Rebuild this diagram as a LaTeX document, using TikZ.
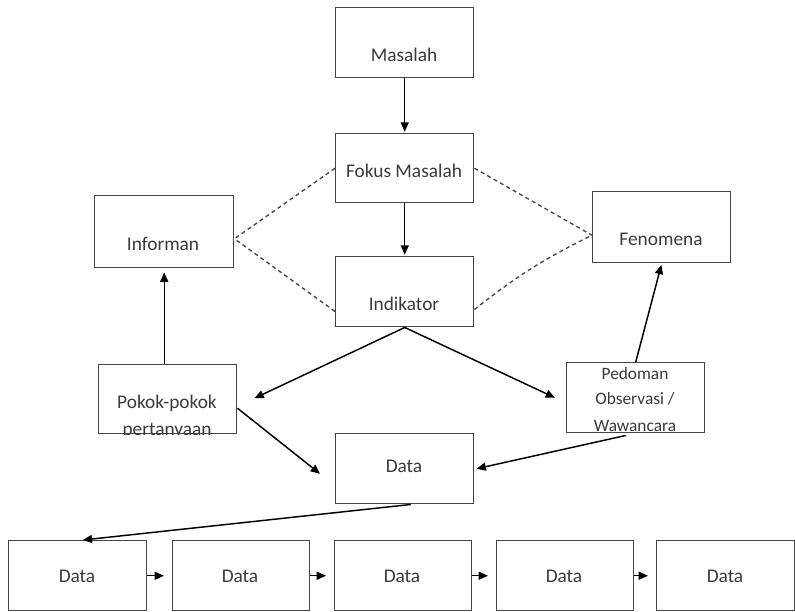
\documentclass[tikz,border=0pt]{standalone}
\usepackage{fontspec}
\setmainfont{Carlito}
\usetikzlibrary{arrows.meta,calc}
\definecolor{edge}{HTML}{454545}
\definecolor{ink}{HTML}{3A3A3A}
\begin{document}
\begin{tikzpicture}[x=0.75pt,y=-0.75pt,
  box/.style={draw=edge,line width=1.1pt,anchor=north west,inner sep=0pt,
    minimum width=103.5pt,minimum height=52.5pt},
  txt/.style={text=ink,font=\fontsize{14.5}{20}\selectfont,anchor=base,inner sep=0pt,align=center},
  smalltxt/.style={text=ink,font=\fontsize{13}{19}\selectfont,anchor=base,inner sep=0pt,align=center},
  arr/.style={draw=black,line width=1.1pt,-{Triangle[length=7pt,width=6pt]}},
  link/.style={draw=edge,line width=1pt,dash pattern=on 3pt off 2.5pt}]
\useasboundingbox (0,0) rectangle (795,611);

% boxes
\node[box] (mas) at (335,7) {};
\node[box,minimum height=51.75pt] (fok) at (335,133) {};
\node[box] (ind) at (335,256) {};
\node[box,minimum width=104.25pt,minimum height=54pt] (inf) at (94,195) {};
\node[box,minimum height=53.25pt] (fen) at (592,191) {};
\node[box,minimum height=51.75pt] (pok) at (98,364) {};
\node[box] (ped) at (566,362) {};
\node[box] (dat) at (335,433) {};
\node[box] (d1) at (8,540) {};
\node[box,minimum width=102.75pt] (d2) at (172,540) {};
\node[box,minimum width=102.75pt] (d3) at (334,540) {};
\node[box,minimum width=102.75pt] (d4) at (496,540) {};
\node[box] (d5) at (656,540) {};

% labels
\node[txt] (tmas) at (404,61) {Masalah};
\node[txt] (tfok) at (404,177) {Fokus Masalah};
\node[txt] (tind) at (404,310) {Indikator};
\node[txt] (tinf) at (163,250) {Informan};
\node[txt] (tfen) at (661,245) {Fenomena};
\node[txt] (tdat) at (404,472) {Data};
\foreach \b/\x in {d1/77,d2/240,d3/402,d4/564,d5/725}
  \node[txt] (t\b) at (\x,582) {Data};

% two-line and three-line labels, cut off by the box edge
\begin{scope}
  \clip (pok.north west) rectangle (pok.south east);
  \node[txt] (tpok1) at (167,408) {Pokok-pokok};
  \node[txt] (tpok2) at (167,435) {pertanyaan};
\end{scope}
\begin{scope}
  \clip ($(ped.north west)+(0,0)$) rectangle ($(ped.south east)+(0,2)$);
  \node[smalltxt] (tped1) at (635,379) {Pedoman};
  \node[smalltxt] (tped2) at (635,404) {Observasi /};
  \node[smalltxt] (tped3) at (635,431) {Wawancara};
\end{scope}

% dashed links
\draw[link] (fok.west) -- ($(inf.east)+(0,7)$);
\draw[link] ($(ind.south west)+(0,-16)$) -- ($(inf.east)+(0,7)$);
\draw[link] (fok.east) -- ($(fen.west)+(0,8)$);
\draw[link] ($(ind.south east)+(0,-18)$) to[bend left=6] ($(fen.west)+(0,8)$);

% arrows
\draw[arr,shorten >=1pt] (mas.south) -- (fok.north);
\draw[arr,shorten >=1pt] (fok.south) -- (ind.north);
\draw[arr] (ind.south) -- ($(pok.east)+(17,-1)$);
\draw[arr] (ind.south) -- ($(ped.west)+(-11,0)$);
\draw[arr,shorten >=3pt] (pok.north -| inf.south) -- (inf.south);
\draw[arr,shorten >=1pt] (ped.north) -- (fen.south);
\draw[arr] ($(pok.east)+(0,9)$) -- ($(dat.west)+(-15,5)$);
\draw[arr] ($(ped.south)+(-10,2)$) -- ($(dat.east)+(2,0)$);
\draw[arr] ($(dat.south)+(6,0)$) -- ($(d1.north)+(5,0)$);
\foreach \a/\b in {d1/d2,d2/d3,d3/d4,d4/d5}
  \draw[arr,shorten >=6pt] (\a.east) -- (\b.west);
\end{tikzpicture}
\end{document}
